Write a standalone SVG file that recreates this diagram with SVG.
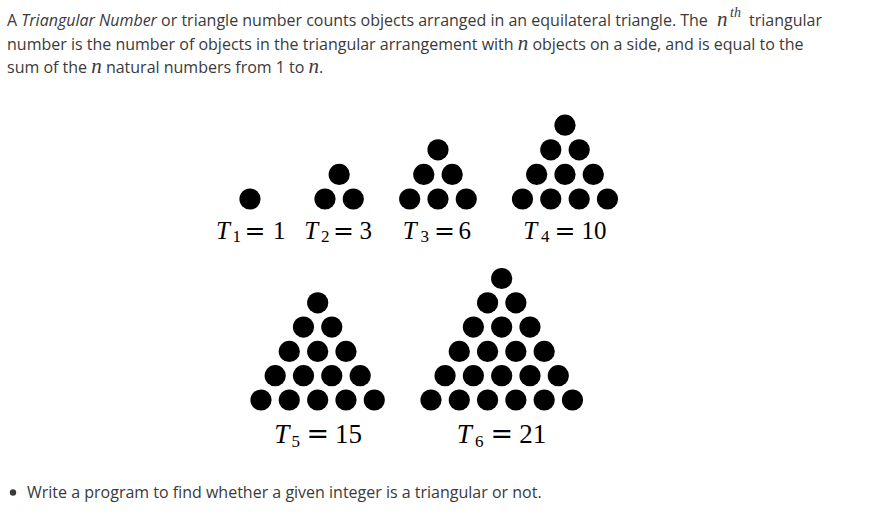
<svg xmlns="http://www.w3.org/2000/svg" width="884" height="520" viewBox="0 0 884 520">
<style>
.body{font-family:"Open Sans","Liberation Sans",sans-serif;font-size:16px;fill:#3a3a3a}
.it{font-style:italic}
.m{font-family:"Liberation Serif",serif;font-style:italic;font-size:21px}
.sup{font-family:"Liberation Serif",serif;font-style:italic;font-size:14px}
.dot{fill:#000}
.lbl{font-family:"Liberation Serif",serif;font-size:25px;fill:#000}
.lbl2{font-family:"Liberation Serif",serif;font-size:27px;fill:#000}
.T{font-style:italic}
.sub{font-size:17px}
.eq{font-family:"DejaVu Serif",serif}
</style>
<rect width="884" height="520" fill="#fff"/>
<g id="intro">
<text class="body" x="7" y="26">A <tspan class="it">Triangular Number</tspan> or triangle number counts objects arranged in an equilateral triangle. The <tspan class="m" x="717">n</tspan><tspan class="sup" x="730" y="17">th</tspan><tspan x="749" y="26">triangular</tspan></text>
<text class="body" x="7" y="50">number is the number of objects in the triangular arrangement with <tspan class="m">n</tspan> objects on a side, and is equal to the</text>
<text class="body" x="7" y="73">sum of the <tspan class="m">n</tspan> natural numbers from 1 to <tspan class="m">n</tspan>.</text>
</g>
<g id="T1">
<circle class="dot" cx="250" cy="199" r="10.6"/>
<text class="lbl"><tspan class="T" x="216" y="238.5">T</tspan><tspan class="sub" x="232.5" y="242">1</tspan><tspan class="eq" x="244.5" y="238.5">=</tspan><tspan x="273" y="238.5">1</tspan></text>
</g>
<g id="T2">
<circle class="dot" cx="339.2" cy="174.4" r="10.6"/>
<circle class="dot" cx="325" cy="199" r="10.6"/>
<circle class="dot" cx="353.3" cy="199" r="10.6"/>
<text class="lbl"><tspan class="T" x="304.3" y="238.5">T</tspan><tspan class="sub" x="321" y="242">2</tspan><tspan class="eq" x="333" y="238.5">=</tspan><tspan x="359.5" y="238.5">3</tspan></text>
</g>
<g id="T3">
<circle class="dot" cx="438" cy="149.8" r="10.6"/>
<circle class="dot" cx="423.8" cy="174.4" r="10.6"/>
<circle class="dot" cx="452.2" cy="174.4" r="10.6"/>
<circle class="dot" cx="409.7" cy="199" r="10.6"/>
<circle class="dot" cx="438" cy="199" r="10.6"/>
<circle class="dot" cx="466.3" cy="199" r="10.6"/>
<text class="lbl"><tspan class="T" x="402.7" y="238.5">T</tspan><tspan class="sub" x="420.5" y="242">3</tspan><tspan class="eq" x="434" y="238.5">=</tspan><tspan x="458.5" y="238.5">6</tspan></text>
</g>
<g id="T4">
<circle class="dot" cx="565" cy="125.2" r="10.6"/>
<circle class="dot" cx="550.8" cy="149.8" r="10.6"/>
<circle class="dot" cx="579.2" cy="149.8" r="10.6"/>
<circle class="dot" cx="536.7" cy="174.4" r="10.6"/>
<circle class="dot" cx="565" cy="174.4" r="10.6"/>
<circle class="dot" cx="593.3" cy="174.4" r="10.6"/>
<circle class="dot" cx="522.5" cy="199" r="10.6"/>
<circle class="dot" cx="550.8" cy="199" r="10.6"/>
<circle class="dot" cx="579.2" cy="199" r="10.6"/>
<circle class="dot" cx="607.5" cy="199" r="10.6"/>
<text class="lbl"><tspan class="T" x="523.3" y="238.5">T</tspan><tspan class="sub" x="541" y="242">4</tspan><tspan class="eq" x="554.5" y="238.5">=</tspan><tspan x="581.5" y="238.5">10</tspan></text>
</g>
<g id="T5">
<circle class="dot" cx="317.7" cy="302.8" r="10.6"/>
<circle class="dot" cx="303.5" cy="327.1" r="10.6"/>
<circle class="dot" cx="331.8" cy="327.1" r="10.6"/>
<circle class="dot" cx="289.3" cy="351.4" r="10.6"/>
<circle class="dot" cx="317.7" cy="351.4" r="10.6"/>
<circle class="dot" cx="346" cy="351.4" r="10.6"/>
<circle class="dot" cx="275.2" cy="375.7" r="10.6"/>
<circle class="dot" cx="303.5" cy="375.7" r="10.6"/>
<circle class="dot" cx="331.8" cy="375.7" r="10.6"/>
<circle class="dot" cx="360.2" cy="375.7" r="10.6"/>
<circle class="dot" cx="261" cy="400" r="10.6"/>
<circle class="dot" cx="289.3" cy="400" r="10.6"/>
<circle class="dot" cx="317.7" cy="400" r="10.6"/>
<circle class="dot" cx="346" cy="400" r="10.6"/>
<circle class="dot" cx="374.3" cy="400" r="10.6"/>
<text class="lbl2"><tspan class="T" x="274.3" y="442.7">T</tspan><tspan class="sub" x="291.5" y="446.5">5</tspan><tspan class="eq" x="306.5" y="442.7">=</tspan><tspan x="335" y="442.7">15</tspan></text>
</g>
<g id="T6">
<circle class="dot" cx="501.7" cy="278.5" r="10.6"/>
<circle class="dot" cx="487.6" cy="302.8" r="10.6"/>
<circle class="dot" cx="515.9" cy="302.8" r="10.6"/>
<circle class="dot" cx="473.4" cy="327.1" r="10.6"/>
<circle class="dot" cx="501.7" cy="327.1" r="10.6"/>
<circle class="dot" cx="530" cy="327.1" r="10.6"/>
<circle class="dot" cx="459.3" cy="351.4" r="10.6"/>
<circle class="dot" cx="487.6" cy="351.4" r="10.6"/>
<circle class="dot" cx="515.9" cy="351.4" r="10.6"/>
<circle class="dot" cx="544.2" cy="351.4" r="10.6"/>
<circle class="dot" cx="445.1" cy="375.7" r="10.6"/>
<circle class="dot" cx="473.4" cy="375.7" r="10.6"/>
<circle class="dot" cx="501.7" cy="375.7" r="10.6"/>
<circle class="dot" cx="530" cy="375.7" r="10.6"/>
<circle class="dot" cx="558.3" cy="375.7" r="10.6"/>
<circle class="dot" cx="431" cy="400" r="10.6"/>
<circle class="dot" cx="459.3" cy="400" r="10.6"/>
<circle class="dot" cx="487.6" cy="400" r="10.6"/>
<circle class="dot" cx="515.9" cy="400" r="10.6"/>
<circle class="dot" cx="544.2" cy="400" r="10.6"/>
<circle class="dot" cx="572.5" cy="400" r="10.6"/>
<text class="lbl2"><tspan class="T" x="456.7" y="442.7">T</tspan><tspan class="sub" x="475" y="446.5">6</tspan><tspan class="eq" x="490.5" y="442.7">=</tspan><tspan x="519.3" y="442.7">21</tspan></text>
</g>
<g id="task">
<circle cx="13" cy="492.5" r="3.2" fill="#3a3a3a"/>
<text class="body" x="27" y="498">Write a program to find whether a given integer is a triangular or not.</text>
</g>
</svg>
